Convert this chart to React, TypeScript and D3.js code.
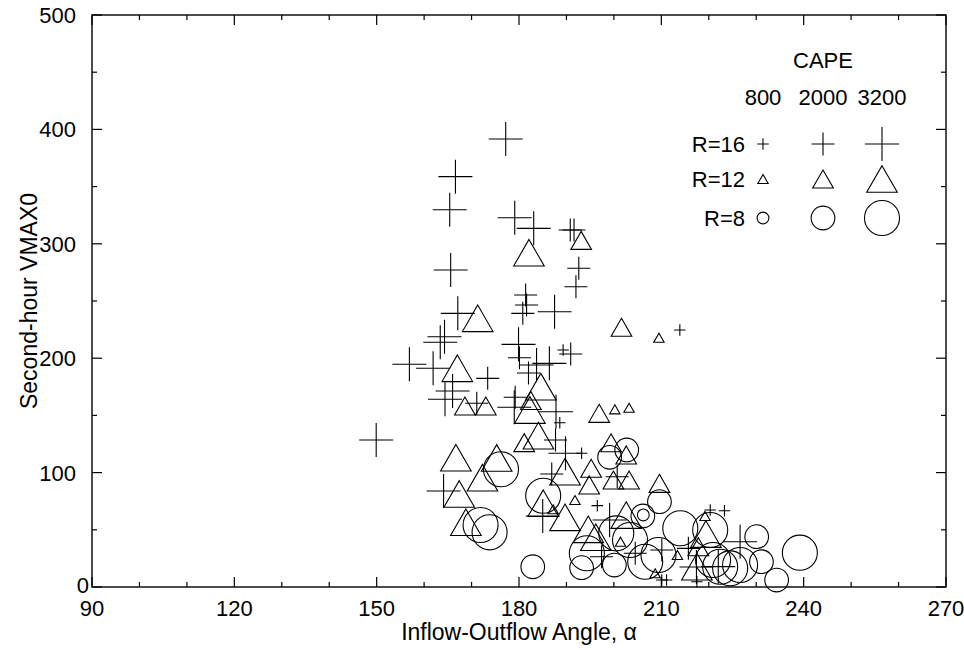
import React from "react";
import * as d3 from "d3";

// R=16 (plus), R=12 (triangle), R=8 (circle); CAPE 800 / 2000 / 3200 => small / medium / large
const r16_800: [number, number][] = [
  [189.3, 207.2], [188.6, 143.6], [193.2, 116.9], [196.5, 71.1], [213.9, 224.7],
  [220.3, 67.3], [223.3, 66.7], [210.1, 6.1], [211.1, 6.1], [217.5, 4.6],
];
const r16_2000: [number, number][] = [
  [190.8, 312], [191.6, 312], [192.6, 278.6], [192.0, 262.5], [181.4, 255.2],
  [181.6, 246.5], [180.8, 239.2], [173.4, 182.4], [171.1, 160.6], [180.1, 200.4],
  [190.9, 203.7], [182, 187], [179.2, 165.8], [187.7, 128.5], [186.9, 98.8],
  [200.7, 96.4], [197.4, 26.5], [210.1, 32.3], [204.5, 29.5], [215.7, 33.8],
];
const r16_3200: [number, number][] = [
  [177.2, 391.6], [166.6, 358.7], [165.4, 329.8], [179.1, 322.8], [183.1, 313.5],
  [165.6, 277.1], [167.1, 239.2], [187.5, 240.6], [164.3, 218.8], [163.4, 213.9],
  [156.9, 194.7], [161.9, 191.2], [166.0, 171.3], [164.4, 164.1], [149.9, 128.5],
  [179.9, 212.1], [183.7, 194.1], [186.4, 195.5], [179.0, 157.1], [187.8, 153.2],
  [189.8, 116.9], [164.1, 83.9], [185.0, 62.1], [199.1, 58.6], [226.6, 39.6],
  [222.0, 17.8], [217.4, 17.5],
];
const r12_800: [number, number][] = [
  [209.5, 217.9], [200.2, 155.3], [203.2, 156.7], [191.8, 76.0], [187.2, 67.9],
  [201.4, 39.6], [219.2, 62.1], [213.4, 28.0], [208.7, 12],
];
const r12_2000: [number, number][] = [
  [201.6, 227.0], [193.1, 303], [168.6, 158.2], [173.0, 158.2], [182.5, 163],
  [181.1, 126.2], [196.9, 151.8], [195.2, 103.8], [194.8, 89.2], [199.4, 126.1],
  [202.6, 115.4], [199.9, 93.5], [203.2, 93.5], [209.6, 90.6], [217.8, 35.2],
];
const r12_3200: [number, number][] = [
  [182.1, 292.2], [171.3, 234.9], [167.0, 191.2], [184.6, 175.1], [182.3, 154.7],
  [184.1, 132.3], [166.7, 113.0], [175.3, 112.8], [172.3, 95.5], [167.4, 81.3],
  [168.8, 56.6], [185.1, 73.2], [189.7, 60.9], [189.7, 100.8], [194.6, 50.4],
  [196.2, 43.5], [202.6, 62.9], [219.4, 46.3], [217.5, 17.8],
];
const r8_800: [number, number][] = [[206.2, 63]];
const r8_2000: [number, number][] = [
  [182.9, 17.7], [199.1, 113.4], [202.7, 119.8], [200.1, 19.2], [193.2, 16.9],
  [209.6, 74.6], [206.1, 62.1], [230.1, 44.0], [234.3, 6.1], [231.1, 22.1],
];
const r8_3200: [number, number][] = [
  [176.2, 102.9], [171.9, 54.2], [173.8, 47.8], [185.1, 79.8], [200.5, 46.9],
  [194.3, 29.5], [214.0, 51.3], [220.3, 49.8], [209.4, 28.0], [206.6, 22.1],
  [203.4, 41.1], [222.4, 17.7], [224.5, 16.3], [226.6, 19.2], [220.9, 23.6],
  [239.2, 30],
];

const xTicks = [90, 120, 150, 180, 210, 240, 270];
const yTicks = [0, 100, 200, 300, 400, 500];
const capeLabels = ["800", "2000", "3200"];
const rowLabels = ["R=16", "R=12", "R=8"];

type Shape = "plus" | "tri" | "circle";
const sizes = [11.5, 23, 34]; // marker extent per CAPE level

const series: { data: [number, number][]; shape: Shape; level: number }[] = [
  { data: r16_800, shape: "plus", level: 0 },
  { data: r16_2000, shape: "plus", level: 1 },
  { data: r16_3200, shape: "plus", level: 2 },
  { data: r12_800, shape: "tri", level: 0 },
  { data: r12_2000, shape: "tri", level: 1 },
  { data: r12_3200, shape: "tri", level: 2 },
  { data: r8_800, shape: "circle", level: 0 },
  { data: r8_2000, shape: "circle", level: 1 },
  { data: r8_3200, shape: "circle", level: 2 },
];

const FONT = "'Liberation Sans', Arial, Helvetica, sans-serif";

function Marker({ cx, cy, shape, level }: { cx: number; cy: number; shape: Shape; level: number }) {
  const s = sizes[level];
  const common = { fill: "none", stroke: "#000", strokeWidth: 1.1 };
  if (shape === "plus") {
    const h = s / 2;
    return <path d={`M${cx - h},${cy}H${cx + h}M${cx},${cy - h}V${cy + h}`} {...common} />;
  }
  if (shape === "tri") {
    const w = s * 0.9;
    const h = w * 0.87;
    return (
      <path
        d={`M${cx},${cy - h / 2}L${cx + w / 2},${cy + h / 2}L${cx - w / 2},${cy + h / 2}Z`}
        {...common}
      />
    );
  }
  const r = (s * 1.03) / 2;
  return <circle cx={cx} cy={cy} r={r} {...common} />;
}

export default function App() {
  const W = 964, H = 650;
  const left = 92, right = 946, top = 15, bottom = 587;
  const x = d3.scaleLinear().domain([90, 270]).range([left, right]);
  const y = d3.scaleLinear().domain([0, 500]).range([bottom, top]);

  const xMinor = d3.range(90, 271, 10);
  const yMinor = d3.range(0, 501, 50);

  const legendX = [763, 823, 882];
  const legendY = [144, 179, 218];
  const legendShapes: Shape[] = ["plus", "tri", "circle"];

  return (
    <svg
      width={W}
      height={H}
      style={{ position: "absolute", left: 0, top: 0, background: "#fff" }}
      fontFamily={FONT}
    >
      <rect x={0} y={0} width={W} height={H} fill="#fff" />
      {/* ticks */}
      <g stroke="#000" strokeWidth={1.2}>
        {xMinor.map((v) => {
          const len = xTicks.includes(v) ? 10 : 5;
          return (
            <g key={"xt" + v}>
              <line x1={x(v)} x2={x(v)} y1={bottom} y2={bottom - len} />
              <line x1={x(v)} x2={x(v)} y1={top} y2={top + len} />
            </g>
          );
        })}
        {yMinor.map((v) => {
          const len = yTicks.includes(v) ? 10 : 5;
          return (
            <g key={"yt" + v}>
              <line x1={left} x2={left + len} y1={y(v)} y2={y(v)} />
              <line x1={right} x2={right - len} y1={y(v)} y2={y(v)} />
            </g>
          );
        })}
      </g>
      <rect x={left} y={top} width={right - left} height={bottom - top} fill="none" stroke="#000" strokeWidth={1.4} />

      {/* tick labels */}
      <g fontSize={22} fill="#000">
        {xTicks.map((v) => (
          <text key={"xl" + v} x={x(v)} y={616} textAnchor="middle">
            {v}
          </text>
        ))}
        {yTicks.map((v) =>
          v === 0 ? (
            <text key={"yl" + v} x={x(90) - 3} y={y(v) + 6} textAnchor="end">
              {v}
            </text>
          ) : (
            <text key={"yl" + v} x={76} y={y(v) + 8} textAnchor="end">
              {v}
            </text>
          )
        )}
      </g>

      {/* axis titles */}
      <text x={(left + right) / 2} y={640} textAnchor="middle" fontSize={23}>
        Inflow-Outflow Angle, α
      </text>
      <text transform={`translate(37,${(top + bottom) / 2}) rotate(-90)`} textAnchor="middle" fontSize={23}>
        Second-hour VMAX0
      </text>

      {/* data */}
      <g>
        {series.map((s, i) =>
          s.data.map((d, j) => (
            <Marker key={`${i}-${j}`} cx={x(d[0])} cy={y(d[1])} shape={s.shape} level={s.level} />
          ))
        )}
      </g>

      {/* legend */}
      <g fontSize={22}>
        <text x={823} y={68} textAnchor="middle">CAPE</text>
        {capeLabels.map((c, i) => (
          <text key={c} x={legendX[i]} y={105} textAnchor="middle">
            {c}
          </text>
        ))}
        {rowLabels.map((r, i) => (
          <text key={r} x={745} y={legendY[i] + 8} textAnchor="end">
            {r}
          </text>
        ))}
        {legendShapes.map((sh, i) =>
          legendX.map((lx, j) => (
            <Marker key={`lg${i}${j}`} cx={lx} cy={legendY[i]} shape={sh} level={j} />
          ))
        )}
      </g>
    </svg>
  );
}
